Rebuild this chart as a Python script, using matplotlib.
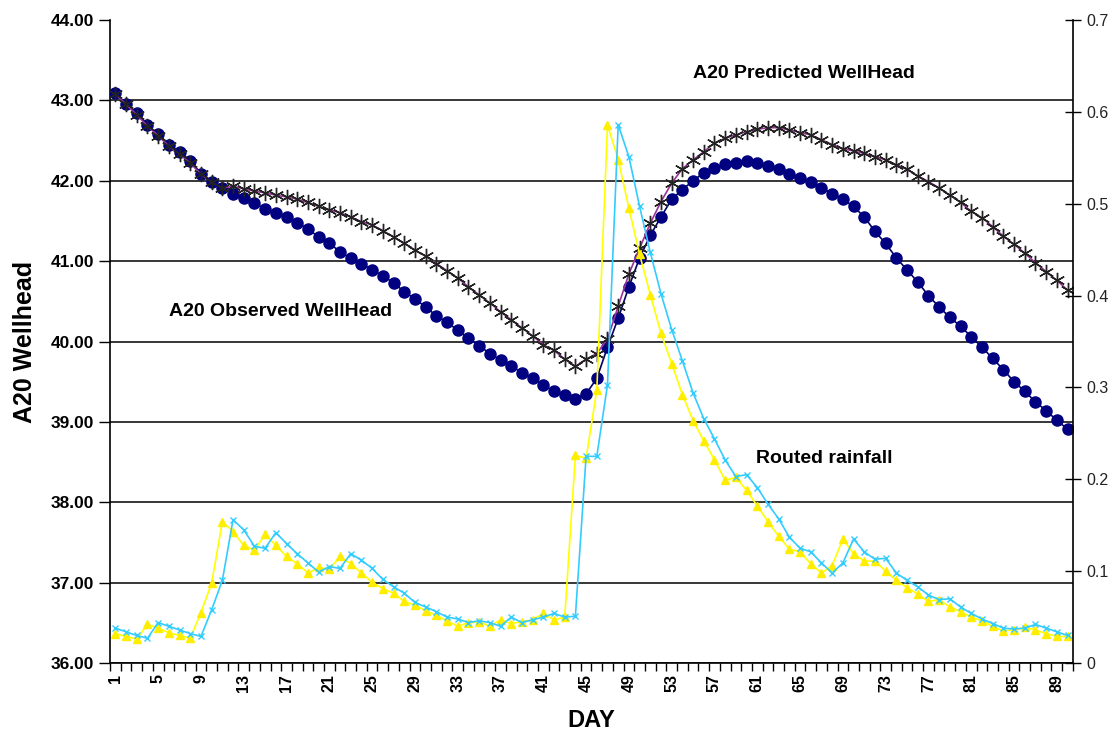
import numpy as np
import matplotlib
matplotlib.use("Agg")
from matplotlib import pyplot as plt

plt.rcParams['font.family'] = ['Liberation Sans', 'DejaVu Sans']

# Days on the category axis
days = np.arange(1, 91)

# A20 observed wellhead (left axis)
observed = [43.09, 42.96, 42.84, 42.69, 42.58, 42.45, 42.36, 42.25, 42.09, 41.99,
            41.91, 41.84, 41.79, 41.72, 41.65, 41.60, 41.55, 41.48, 41.40, 41.30,
            41.23, 41.11, 41.04, 40.97, 40.89, 40.82, 40.73, 40.62, 40.53, 40.43,
            40.32, 40.24, 40.14, 40.04, 39.95, 39.85, 39.77, 39.70, 39.61, 39.54,
            39.46, 39.38, 39.33, 39.29, 39.35, 39.54, 39.93, 40.29, 40.68, 41.04,
            41.32, 41.55, 41.77, 41.89, 42.00, 42.10, 42.16, 42.21, 42.22, 42.24,
            42.22, 42.18, 42.14, 42.09, 42.04, 41.99, 41.91, 41.84, 41.77, 41.68,
            41.55, 41.37, 41.22, 41.04, 40.89, 40.74, 40.57, 40.43, 40.30, 40.19,
            40.06, 39.93, 39.79, 39.65, 39.50, 39.38, 39.25, 39.14, 39.02, 38.91]

# A20 predicted wellhead (left axis)
predicted = [43.08, 42.95, 42.82, 42.68, 42.56, 42.43, 42.33, 42.22, 42.08, 41.98,
             41.91, 41.93, 41.90, 41.87, 41.85, 41.82, 41.80, 41.77, 41.73, 41.68,
             41.64, 41.60, 41.55, 41.49, 41.45, 41.38, 41.30, 41.22, 41.14, 41.06,
             40.97, 40.88, 40.79, 40.68, 40.58, 40.48, 40.37, 40.27, 40.17, 40.07,
             39.96, 39.89, 39.78, 39.69, 39.78, 39.85, 40.03, 40.44, 40.84, 41.16,
             41.47, 41.74, 41.97, 42.15, 42.26, 42.36, 42.47, 42.53, 42.57, 42.61,
             42.64, 42.66, 42.66, 42.63, 42.60, 42.57, 42.51, 42.45, 42.40, 42.37,
             42.34, 42.30, 42.26, 42.20, 42.14, 42.06, 41.99, 41.91, 41.82, 41.73,
             41.62, 41.54, 41.43, 41.31, 41.21, 41.10, 40.98, 40.87, 40.76, 40.64]

# Routed rainfall (right axis), yellow
rain_a = [0.032, 0.029, 0.026, 0.042, 0.038, 0.033, 0.030, 0.027, 0.055, 0.087,
          0.154, 0.143, 0.128, 0.123, 0.140, 0.128, 0.116, 0.108, 0.098, 0.104,
          0.102, 0.116, 0.108, 0.098, 0.088, 0.081, 0.076, 0.067, 0.063, 0.057,
          0.052, 0.046, 0.040, 0.044, 0.045, 0.040, 0.047, 0.043, 0.045, 0.047,
          0.054, 0.047, 0.050, 0.226, 0.223, 0.297, 0.586, 0.548, 0.495, 0.445,
          0.401, 0.359, 0.326, 0.292, 0.264, 0.242, 0.221, 0.199, 0.202, 0.188,
          0.171, 0.154, 0.138, 0.124, 0.121, 0.108, 0.098, 0.106, 0.135, 0.119,
          0.111, 0.111, 0.100, 0.090, 0.082, 0.075, 0.067, 0.069, 0.061, 0.056,
          0.050, 0.046, 0.040, 0.035, 0.036, 0.039, 0.036, 0.032, 0.029, 0.029]

# Routed rainfall (right axis), cyan
rain_b = [0.038, 0.034, 0.030, 0.027, 0.044, 0.040, 0.036, 0.032, 0.029, 0.058,
          0.090, 0.156, 0.145, 0.127, 0.125, 0.142, 0.130, 0.119, 0.109, 0.099,
          0.105, 0.103, 0.119, 0.112, 0.103, 0.091, 0.083, 0.076, 0.066, 0.061,
          0.056, 0.050, 0.048, 0.044, 0.046, 0.044, 0.040, 0.050, 0.044, 0.047,
          0.050, 0.054, 0.050, 0.051, 0.225, 0.225, 0.303, 0.586, 0.551, 0.497,
          0.447, 0.402, 0.363, 0.329, 0.294, 0.266, 0.244, 0.221, 0.203, 0.205,
          0.191, 0.173, 0.157, 0.137, 0.125, 0.121, 0.109, 0.098, 0.109, 0.135,
          0.121, 0.113, 0.114, 0.098, 0.090, 0.083, 0.074, 0.069, 0.070, 0.061,
          0.054, 0.048, 0.043, 0.038, 0.037, 0.038, 0.042, 0.038, 0.034, 0.030]

left_ticks = [36, 37, 38, 39, 40, 41, 42, 43, 44]
right_ticks = [0, 0.1, 0.2, 0.3, 0.4, 0.5, 0.6, 0.7]
x_label_days = list(range(1, 91, 4))

fig = plt.figure(figsize=(11.17, 7.4), dpi=100)
ax = fig.add_axes([0.0985, 0.104, 0.862, 0.869])

ax.plot(days, observed, color='#000066', lw=1.2, marker='o', ms=8,
        mfc='#000080', mec='#000080', zorder=3)
ax.plot(days, predicted, color='#993399', lw=1.2, marker=(6, 2, 0), ms=11,
        mec='#222222', mew=1.0, zorder=4)

ax.set_xlim(0.5, 90.5)
ax.set_ylim(36, 44)
ax.set_yticks(left_ticks)
ax.set_yticklabels(['%.2f' % v for v in left_ticks], fontsize=12.5, fontweight='bold')
ax.yaxis.grid(True, color='black', lw=1.1)
ax.set_axisbelow(True)
ax.get_ygridlines()[-1].set_visible(False)
ax.tick_params(axis='y', direction='out', length=8, width=1)

ax.set_xticks(x_label_days)
ax.set_xticklabels([str(d) for d in x_label_days], rotation=90, fontsize=11.5,
                   fontweight='bold')
ax.set_xticks(np.arange(0.5, 91, 1), minor=True)
ax.tick_params(axis='x', which='major', length=0, pad=8)
ax.tick_params(axis='x', which='minor', direction='out', length=6, width=1)

for s in ['top', 'right']:
    ax.spines[s].set_visible(False)
ax.spines['left'].set_linewidth(1.2)
ax.spines['bottom'].set_linewidth(1.2)

ax.set_ylabel('A20 Wellhead', fontsize=18, fontweight='bold', labelpad=10)
ax.set_xlabel('DAY', fontsize=17, fontweight='bold', labelpad=12)

ax2 = ax.twinx()
ax2.plot(days, rain_a, color='#FFFF00', lw=1.2, marker='^', ms=6,
         mfc='#FFEE00', mec='#FFEE00')
ax2.plot(days, rain_b, color='#33CCFF', lw=1.2, marker='x', ms=5, mew=1.0)
ax2.set_ylim(0, 0.7)
ax2.set_yticks(right_ticks)
ax2.set_yticklabels(['0' if v == 0 else '%.1f' % v for v in right_ticks],
                    fontsize=11.5, color='#222222')
ax2.tick_params(axis='y', direction='inout', length=12, width=1)
ax2.spines['top'].set_visible(False)
ax2.spines['left'].set_visible(False)
ax2.spines['bottom'].set_visible(False)
ax2.spines['right'].set_linewidth(1.2)

ax.text(55.0, 43.34, 'A20 Predicted WellHead', fontsize=14, fontweight='bold',
        ha='left', va='center')
ax.text(6.0, 40.37, 'A20 Observed WellHead', fontsize=14, fontweight='bold',
        ha='left', va='center')
ax.text(60.9, 38.55, 'Routed rainfall', fontsize=14, fontweight='bold',
        ha='left', va='center')

fig.savefig('out.png', dpi=100)
